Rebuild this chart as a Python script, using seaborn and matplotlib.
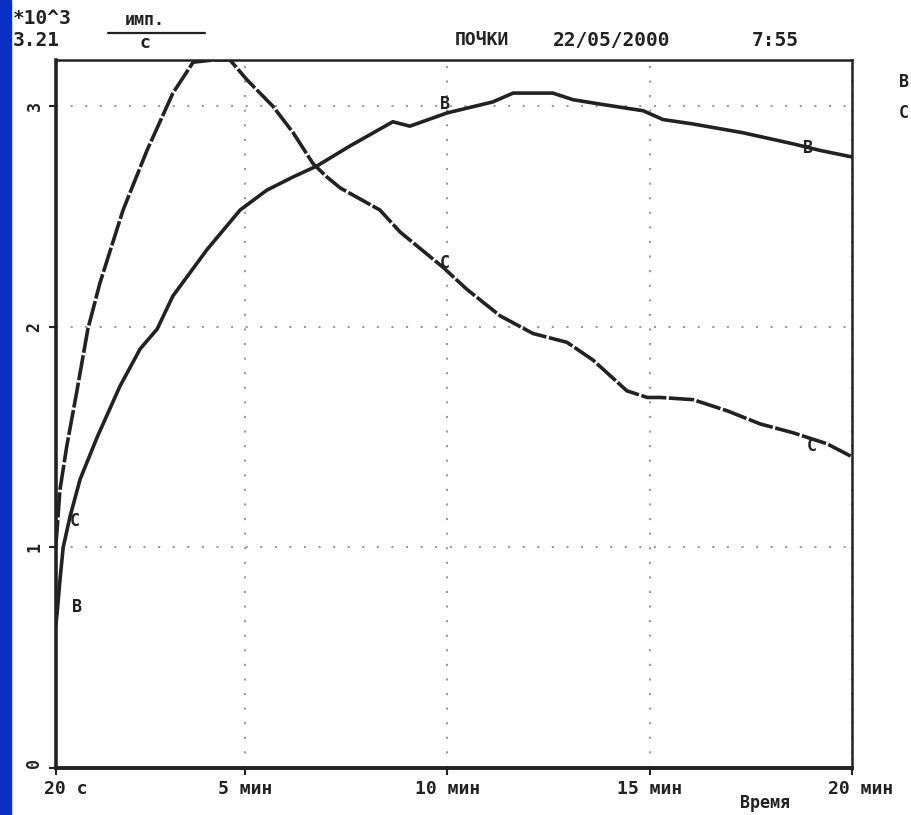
import matplotlib
matplotlib.use("Agg")
import matplotlib.pyplot as plt
import matplotlib.transforms as mtransforms
import pandas as pd
import seaborn as sns
from matplotlib.patches import Rectangle

W, H = 911, 815
INK = "#222222"

# renogram curves, minutes vs counts (x10^3 imp/s)
time_c = [0.33, 0.36, 0.43, 0.60, 0.85, 1.12, 1.42, 1.99, 2.58, 3.22, 3.72, 4.21,
          4.63, 5.05, 5.69, 6.19, 6.68, 7.02, 7.35, 7.84, 8.33, 8.83, 9.89, 10.48,
          11.30, 12.11, 12.95, 13.59, 14.43, 14.93, 15.25, 16.06, 16.90, 17.72,
          18.53, 19.37, 20.0]
counts_c = [1.01, 1.08, 1.26, 1.46, 1.71, 1.99, 2.20, 2.53, 2.80, 3.06, 3.20, 3.21,
            3.21, 3.12, 3.00, 2.88, 2.74, 2.68, 2.63, 2.58, 2.53, 2.43, 2.27, 2.17,
            2.05, 1.97, 1.93, 1.85, 1.71, 1.68, 1.68, 1.67, 1.62, 1.56,
            1.52, 1.47, 1.41]

time_b = [0.33, 0.36, 0.43, 0.51, 0.68, 0.93, 1.35, 1.91, 2.41, 2.83, 3.22, 4.06,
          4.88, 5.54, 6.19, 6.78, 7.59, 8.65, 9.07, 9.99, 11.12, 11.62, 12.60,
          13.10, 13.77, 14.83, 15.32, 16.06, 17.30, 18.53, 19.20, 20.0]
counts_b = [0.65, 0.70, 0.85, 1.00, 1.14, 1.31, 1.50, 1.73, 1.90, 1.99, 2.14, 2.35,
            2.53, 2.62, 2.68, 2.73, 2.82, 2.93, 2.91, 2.97, 3.02, 3.06, 3.06,
            3.03, 3.01, 2.98, 2.94, 2.92, 2.88, 2.83, 2.80, 2.77]

x_ticks = [1 / 3, 5, 10, 15, 20]
x_tick_labels = ["20 с", "5 мин", "10 мин", "15 мин", "20 мин"]
y_ticks = [0, 1, 2, 3]
y_tick_labels = ["0", "1", "2", "3"]
Y_MAX = 3.21

# letters written along the curves
mark_text = ["С", "В", "В", "С", "В", "С"]
mark_x = [0.80, 0.85, 9.94, 9.94, 18.9, 19.0]
mark_y = [1.12, 0.73, 3.01, 2.29, 2.81, 1.46]

df = pd.concat([
    pd.DataFrame({"t": time_b, "v": counts_b, "curve": "В"}),
    pd.DataFrame({"t": time_c, "v": counts_c, "curve": "С"}),
], ignore_index=True)

sns.set_style("white")
plt.rcParams["font.family"] = ["DejaVu Sans Mono"]
plt.rcParams["font.weight"] = "bold"

fig = plt.figure(figsize=(W / 100, H / 100), dpi=100)
fig.patches.append(Rectangle((0, 0), 11 / W, 1, transform=fig.transFigure,
                             color="#0b2fc4", zorder=0))
ax = fig.add_axes([56 / W, 1 - 768 / H, (852.5 - 56) / W, (768 - 60) / H])

sns.lineplot(data=df, x="t", y="v", hue="curve", style="curve",
             palette={"В": INK, "С": INK},
             dashes={"В": "", "С": (7, 0.7)},
             linewidth=2.6, legend=False, ax=ax, sort=False)

for s, xv, yv in zip(mark_text, mark_x, mark_y):
    ax.text(xv, yv, s, fontsize=12, fontweight="bold", color=INK,
            ha="center", va="center")

ax.set_xlim(1 / 3, 20)
ax.set_ylim(0, Y_MAX)
ax.set_xticks(x_ticks)
ax.set_xticklabels(x_tick_labels, fontsize=13, color=INK)
ax.set_yticks(y_ticks)
ax.set_yticklabels(y_tick_labels, fontsize=12, color=INK, rotation=90, va="center")
ax.tick_params(axis="both", direction="out", length=5, width=1.5, color=INK,
               left=True, bottom=True, pad=4)
xlabs = ax.get_xticklabels()
xlabs[0].set_ha("left")
xlabs[0].set_transform(xlabs[0].get_transform() +
                       mtransforms.ScaledTranslation(-0.12, 0, fig.dpi_scale_trans))
xlabs[-1].set_ha("center")
xlabs[-1].set_transform(xlabs[-1].get_transform() +
                        mtransforms.ScaledTranslation(0.08, 0, fig.dpi_scale_trans))
ax.get_yticklabels()[0].set_va("bottom")

ax.set_xlabel("")
ax.set_ylabel("")
ax.grid(True, linestyle=(0, (1, 6)), color="#9a9a9a", linewidth=1.5)
for side, lw in {"left": 2.6, "bottom": 2.8, "top": 1.8, "right": 1.8}.items():
    ax.spines[side].set_color(INK)
    ax.spines[side].set_linewidth(lw)


def ftext(px, py, s, **kw):
    fig.text(px / W, 1 - py / H, s, color=INK, fontweight="bold", **kw)


ftext(13, 18, "*10^3", fontsize=14, va="center")
ftext(13, 41, "3.21", fontsize=14, va="center")
ftext(145, 20, "имп.", fontsize=12, va="center", ha="center")
fig.add_artist(plt.Line2D([108 / W, 205 / W], [1 - 33 / H, 1 - 33 / H],
                          color=INK, linewidth=1.6, transform=fig.transFigure))
ftext(145, 43, "с", fontsize=13, va="center", ha="center")
ftext(455, 40, "ПОЧКИ", fontsize=13, va="center")
ftext(553, 40, "22/05/2000", fontsize=14, va="center")
ftext(752, 40, "7:55", fontsize=14, va="center")
ftext(765, 803, "Время", fontsize=12, va="center", ha="center")
ftext(899, 82, "В", fontsize=12, va="center")
ftext(899, 113, "С", fontsize=12, va="center")

fig.savefig("out.png", dpi=100, facecolor="white")
